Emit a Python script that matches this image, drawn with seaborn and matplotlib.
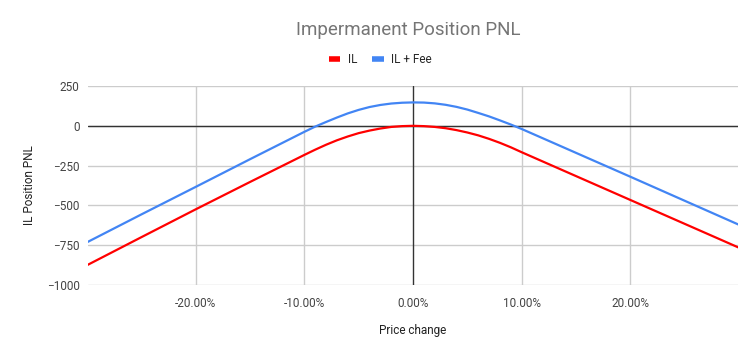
"""
Impermanent position PNL chart (IL vs IL + Fee) redrawn with seaborn
"""
import pandas as pd
import matplotlib
matplotlib.use("Agg")
import matplotlib.pyplot as plt
import matplotlib.ticker as mticker
import seaborn as sns

# Data
price_change = [-0.30, -0.25, -0.20, -0.15, -0.10, -0.09, -0.08, -0.07, -0.06, -0.05,
                -0.04, -0.03, -0.02, -0.01, 0.0, 0.01, 0.02, 0.03, 0.04, 0.05,
                0.06, 0.07, 0.08, 0.09, 0.10, 0.15, 0.20, 0.25, 0.30]
il = [-876, -700, -525, -353, -183, -150, -119, -91, -67, -46,
      -30, -17, -7, -2, 0, -2, -7, -15, -27, -42,
      -60, -82, -107, -135, -166, -316, -466, -616, -766]
il_fee = [-732, -557, -384, -210, -38, -5, 24, 52, 78, 100,
          118, 131, 140, 145, 147, 146, 141, 132, 119, 102,
          81, 59, 34, 8, -20, -170, -320, -471, -622]
series_names = ["IL", "IL + Fee"]
colors = ["#ff0000", "#4285f4"]
x_ticks = [-0.20, -0.10, 0.0, 0.10, 0.20]
y_ticks = [250, 0, -250, -500, -750, -1000]


def build_frame():
    df_il = pd.DataFrame({"Price change": price_change, "PNL": il, "series": series_names[0]})
    df_fee = pd.DataFrame({"Price change": price_change, "PNL": il_fee, "series": series_names[1]})
    return pd.concat([df_il, df_fee], ignore_index=True)


def plot_chart():
    sns.set_style("white")
    plt.rcParams["font.family"] = ["Roboto", "DejaVu Sans"]
    df = build_frame()

    fig = plt.figure(figsize=(7.56, 3.55), dpi=100)
    ax = fig.add_axes([0.1164, 0.1972, 0.8598, 0.5605])

    # grid + zero lines
    for y in y_ticks:
        ax.axhline(y, color="#cccccc", lw=1, zorder=0)
    for x in x_ticks:
        if x != 0:
            ax.axvline(x, color="#cccccc", lw=1, zorder=0)
    ax.axhline(0, color="#333333", lw=1, zorder=1)
    ax.axvline(0, color="#333333", lw=1, zorder=1)

    sns.lineplot(data=df, x="Price change", y="PNL", hue="series",
                 palette=dict(zip(series_names, colors)), linewidth=1.6,
                 ax=ax, legend=False, zorder=3)

    ax.set_xlim(-0.299, 0.299)
    ax.set_ylim(-1000, 250)
    ax.set_xticks(x_ticks)
    ax.set_yticks(y_ticks)
    ax.xaxis.set_major_formatter(mticker.FuncFormatter(lambda v, p: f"{v * 100:.2f}%"))
    ax.tick_params(axis="both", length=0, labelsize=8.5, labelcolor="#444444")
    ax.tick_params(axis="x", pad=9)
    ax.tick_params(axis="y", pad=6)
    for s in ax.spines.values():
        s.set_visible(False)

    ax.set_xlabel("Price change", fontsize=8.5, color="#222222", labelpad=10)
    ax.set_ylabel("IL Position PNL", fontsize=8.5, color="#222222", labelpad=8)

    fig.text(0.54, 0.915, "Impermanent Position PNL", ha="center", va="center",
             fontsize=13.5, color="#757575")

    handles = [plt.Line2D([], [], color=c, lw=4, solid_capstyle="butt") for c in colors]
    fig.legend(handles, series_names, loc="center", bbox_to_anchor=(0.503, 0.831),
               ncol=2, frameon=False, fontsize=8.5, handlelength=1.0,
               handletextpad=0.6, columnspacing=1.3)

    fig.savefig("out.png", dpi=100)


def main():
    plot_chart()


if __name__ == "__main__":
    main()
